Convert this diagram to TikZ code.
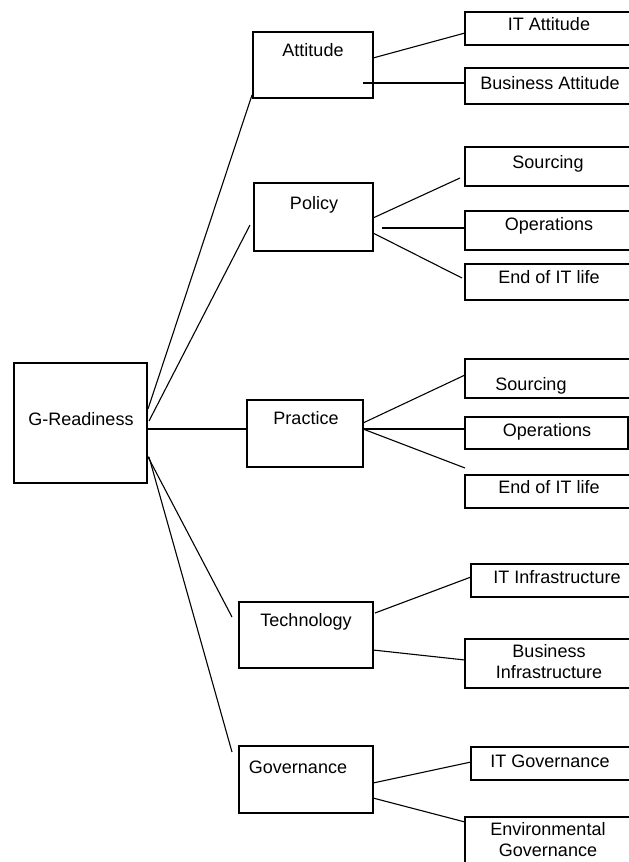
\documentclass[tikz,border=0pt]{standalone}
\usepackage{fontspec}
\setmainfont{Liberation Sans}
\begin{document}
\begin{tikzpicture}[x=1pt,y=-1pt,
  box/.style={draw=black, line width=1.5pt, rectangle, inner sep=0pt, outer sep=0pt},
  lbl/.style={inner sep=0pt, anchor=base, font=\fontsize{18}{21}\selectfont},
  lbl2/.style={inner sep=0pt, anchor=center, align=center, font=\fontsize{18}{21}\selectfont},
  link/.style={draw=black, line width=1.1pt}]
\useasboundingbox (0,0) rectangle (629,862);
\clip (0,0) rectangle (629,862);

% root
\node[box, minimum width=133pt, minimum height=120pt] (g) at (80.5,423) {};
\node[lbl] (tg) at (81,425) {G-Readiness};

% middle column
\node[box, minimum width=120pt, minimum height=66pt] (att) at (313,65) {};
\node[lbl] (tatt) at (313,56) {Attitude};
\node[box, minimum width=119pt, minimum height=68pt] (pol) at (313.5,217) {};
\node[lbl] (tpol) at (314,209) {Policy};
\node[box, minimum width=116pt, minimum height=67pt] (pra) at (305,433.5) {};
\node[lbl] (tpra) at (306,424) {Practice};
\node[box, minimum width=134pt, minimum height=66pt] (tec) at (306,635) {};
\node[lbl] (ttec) at (306,626) {Technology};
\node[box, minimum width=134pt, minimum height=67pt] (gov) at (306,779.5) {};
\node[lbl] (tgov) at (298,773) {Governance};

% right column
\node[box, minimum width=168pt, minimum height=33pt] (ita) at (549,28.5) {};
\node[lbl] (tita) at (549,30) {IT Attitude};
\node[box, minimum width=168pt, minimum height=36pt] (bia) at (549,86) {};
\node[lbl] (tbia) at (550,89) {Business Attitude};

\node[box, minimum width=168pt, minimum height=39pt] (ps) at (549,166.5) {};
\node[lbl] (tps) at (548,168) {Sourcing};
\node[box, minimum width=168pt, minimum height=39pt] (po) at (549,230.5) {};
\node[lbl] (tpo) at (549,230) {Operations};
\node[box, minimum width=168pt, minimum height=36pt] (pe) at (549,282) {};
\node[lbl] (tpe) at (549,283) {End of IT life};

\node[box, minimum width=168pt, minimum height=39pt] (rs) at (549,378.5) {};
\node[lbl] (trs) at (531,390) {Sourcing};
\node[box, minimum width=163pt, minimum height=32pt] (ro) at (546.5,433) {};
\node[lbl] (tro) at (547,436) {Operations};
\node[box, minimum width=168pt, minimum height=33pt] (re) at (549,491.5) {};
\node[lbl] (tre) at (549,493) {End of IT life};

\node[box, minimum width=162pt, minimum height=33pt] (iti) at (552,580.5) {};
\node[lbl] (titi) at (557,583) {IT Infrastructure};
\node[box, minimum width=168pt, minimum height=49pt] (bin) at (549,663.5) {};
\node[lbl2] (tbin) at (549,662) {Business\\Infrastructure};

\node[box, minimum width=162pt, minimum height=33pt] (itg) at (552,763.5) {};
\node[lbl] (titg) at (550,767) {IT Governance};
\node[box, minimum width=168pt, minimum height=83pt] (eg) at (549,858.5) {};
\node[lbl2] (teg) at (548,840) {Environmental\\Governance};

% connector end points
\coordinate (g1) at (148,409);
\coordinate (g2) at (149,421);
\coordinate (g3) at (147,429);
\coordinate (g4) at (147,455);
\coordinate (g5) at (149,457);
\coordinate (att1) at (252,95);
\coordinate (pol1) at (250,225);
\coordinate (pra1) at (247,429);
\coordinate (tec1) at (232,617);
\coordinate (gov1) at (232,752);

\coordinate (att2) at (373,58);
\coordinate (att3) at (363,83);
\coordinate (ita1) at (465,33);
\coordinate (bia1) at (465,83);

\coordinate (pol2) at (373,218);
\coordinate (pol3) at (382,228);
\coordinate (pol4) at (373,233);
\coordinate (ps1) at (460,178);
\coordinate (po1) at (465,228);
\coordinate (pe1) at (462,278);

\coordinate (pra2) at (363,423);
\coordinate (pra3) at (363,429);
\coordinate (rs1) at (465,375);
\coordinate (ro1) at (465,429);
\coordinate (re1) at (465,468);

\coordinate (tec2) at (375,613);
\coordinate (tec3) at (373,650);
\coordinate (iti1) at (471,577);
\coordinate (bin1) at (465,660);

\coordinate (gov2) at (373,783);
\coordinate (gov3) at (373,798);
\coordinate (itg1) at (471,762);
\coordinate (eg1) at (465,822);

% root to middle column
\draw[link] (g1) -- (att1);
\draw[link] (g2) -- (pol1);
\draw[link] (g3) -- (pra1);
\draw[link] (g4) -- (tec1);
\draw[link] (g5) -- (gov1);

% middle to right column
\draw[link] (att2) -- (ita1);
\draw[link] (att3) -- (bia1);
\draw[link] (pol2) -- (ps1);
\draw[link] (pol3) -- (po1);
\draw[link] (pol4) -- (pe1);
\draw[link] (pra2) -- (rs1);
\draw[link] (pra3) -- (ro1);
\draw[link] (pra3) -- (re1);
\draw[link] (tec2) -- (iti1);
\draw[link] (tec3) -- (bin1);
\draw[link] (gov2) -- (itg1);
\draw[link] (gov3) -- (eg1);
\end{tikzpicture}
\end{document}
